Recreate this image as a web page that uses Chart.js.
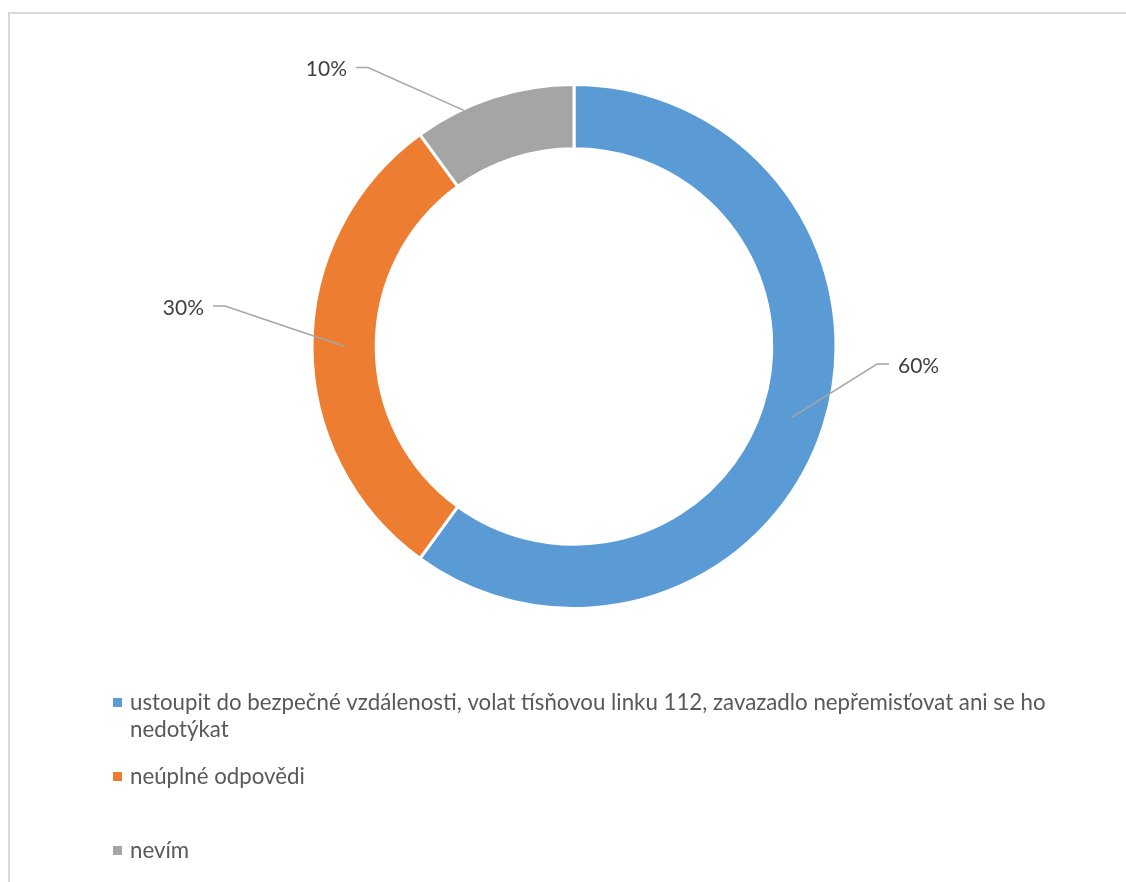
<!DOCTYPE html>
<html lang="cs">
<head>
<meta charset="utf-8">
<title>Doporučený postup</title>
<script src="https://cdn.jsdelivr.net/npm/chart.js@4.4.1/dist/chart.umd.min.js"></script>
<style>
    html, body { margin: 0; padding: 0; background: #ffffff; }
    #wrap { position: relative; width: 1126px; height: 882px; }
</style>
</head>
<body>
<div id="wrap"><canvas id="chart" width="1126" height="882"></canvas></div>
<script>
// Odpovědi respondentů (podíl v %)
const categories = [
    'ustoupit do bezpečné vzdálenosti, volat tísňovou linku 112, zavazadlo nepřemisťovat ani se ho nedotýkat',
    'neúplné odpovědi',
    'nevím'
];
const shares = [60, 30, 10];
const valueLabels = ['60%', '30%', '10%'];
const sliceColors = ['#5b9bd5', '#ed7d31', '#a5a5a5'];

const FONT = 'Lato, "Open Sans", sans-serif';

// rozmístění popisků: koleno odkazové čáry vůči středu, strana textu a kotva na výseči
const labelLayout = [
    { elbow: [303, 17.5], side: 1, ring: 0.5, shift: 0 },
    { elbow: [-349, -40.5], side: -1, ring: 0.5, shift: 0 },
    { elbow: [-206, -279], side: -1, ring: 1.0, shift: -7 }
];

// rámeček kolem grafu (jen horní a levá hrana)
const framePlugin = {
    id: 'frame',
    beforeDraw(chart) {
        const ctx = chart.ctx;
        ctx.save();
        ctx.strokeStyle = '#d9d9d9';
        ctx.lineWidth = 2;
        ctx.beginPath();
        ctx.moveTo(9, chart.height);
        ctx.lineTo(9, 13);
        ctx.lineTo(chart.width, 13);
        ctx.stroke();
        ctx.restore();
    }
};

// procenta u výsečí s odkazovými čarami
const leaderLabels = {
    id: 'leaderLabels',
    afterDatasetsDraw(chart) {
        const ctx = chart.ctx;
        const arcs = chart.getDatasetMeta(0).data;
        ctx.save();
        arcs.forEach((arc, i) => {
            const lay = labelLayout[i];
            const { x, y, startAngle, endAngle, innerRadius, outerRadius } = arc.getProps(
                ['x', 'y', 'startAngle', 'endAngle', 'innerRadius', 'outerRadius'], true);
            const mid = (startAngle + endAngle) / 2 + lay.shift * Math.PI / 180;
            const r = innerRadius + (outerRadius - 1.5 - innerRadius) * lay.ring;
            const ax = x + Math.cos(mid) * r;
            const ay = y + Math.sin(mid) * r;
            const ex = x + lay.elbow[0];
            const ey = y + lay.elbow[1];
            const hx = ex + lay.side * 12;

            ctx.strokeStyle = '#a6a6a6';
            ctx.lineWidth = 1.5;
            ctx.beginPath();
            ctx.moveTo(ax, ay);
            ctx.lineTo(ex, ey);
            ctx.lineTo(hx, ey);
            ctx.stroke();

            ctx.fillStyle = '#404040';
            ctx.font = '21px ' + FONT;
            ctx.textBaseline = 'middle';
            ctx.textAlign = lay.side > 0 ? 'left' : 'right';
            ctx.fillText(valueLabels[i], hx + lay.side * 9, ey + 2);
        });
        ctx.restore();
    }
};

// legenda pod grafem, se zalamováním dlouhé položky
const bottomLegend = {
    id: 'bottomLegend',
    afterDraw(chart) {
        const ctx = chart.ctx;
        ctx.save();
        ctx.font = '22px ' + FONT;
        const ref = ctx.measureText('ustoupit do bezpečné vzdálenosti, volat tísňovou linku 112, zavazadlo nepřemisťovat ani se ho').width;
        const size = 22 * 916 / ref;
        ctx.font = size.toFixed(2) + 'px ' + FONT;
        ctx.textBaseline = 'middle';
        ctx.textAlign = 'left';

        const rows = [703, 777, 851];
        const maxW = 940;
        categories.forEach((label, i) => {
            const words = label.split(' ');
            const lines = [];
            let cur = '';
            words.forEach(w => {
                const test = cur ? cur + ' ' + w : w;
                if (ctx.measureText(test).width > maxW && cur) {
                    lines.push(cur);
                    cur = w;
                } else {
                    cur = test;
                }
            });
            lines.push(cur);

            const y0 = rows[i];
            ctx.fillStyle = sliceColors[i];
            ctx.fillRect(113, y0 - 5, 9, 9);
            ctx.fillStyle = '#595959';
            lines.forEach((ln, k) => ctx.fillText(ln, 130, y0 + k * 27));
        });
        ctx.restore();
    }
};

new Chart(document.getElementById('chart'), {
    type: 'doughnut',
    data: {
        labels: categories,
        datasets: [{
            data: shares,
            backgroundColor: sliceColors,
            borderColor: '#ffffff',
            borderWidth: 3
        }]
    },
    options: {
        responsive: false,
        animation: false,
        cutout: '75.5%',
        layout: {
            padding: { left: 310.5, right: 288.5, top: 83, bottom: 272 }
        },
        plugins: {
            legend: { display: false },
            tooltip: { enabled: false }
        }
    },
    plugins: [framePlugin, leaderLabels, bottomLegend]
});
</script>
</body>
</html>
